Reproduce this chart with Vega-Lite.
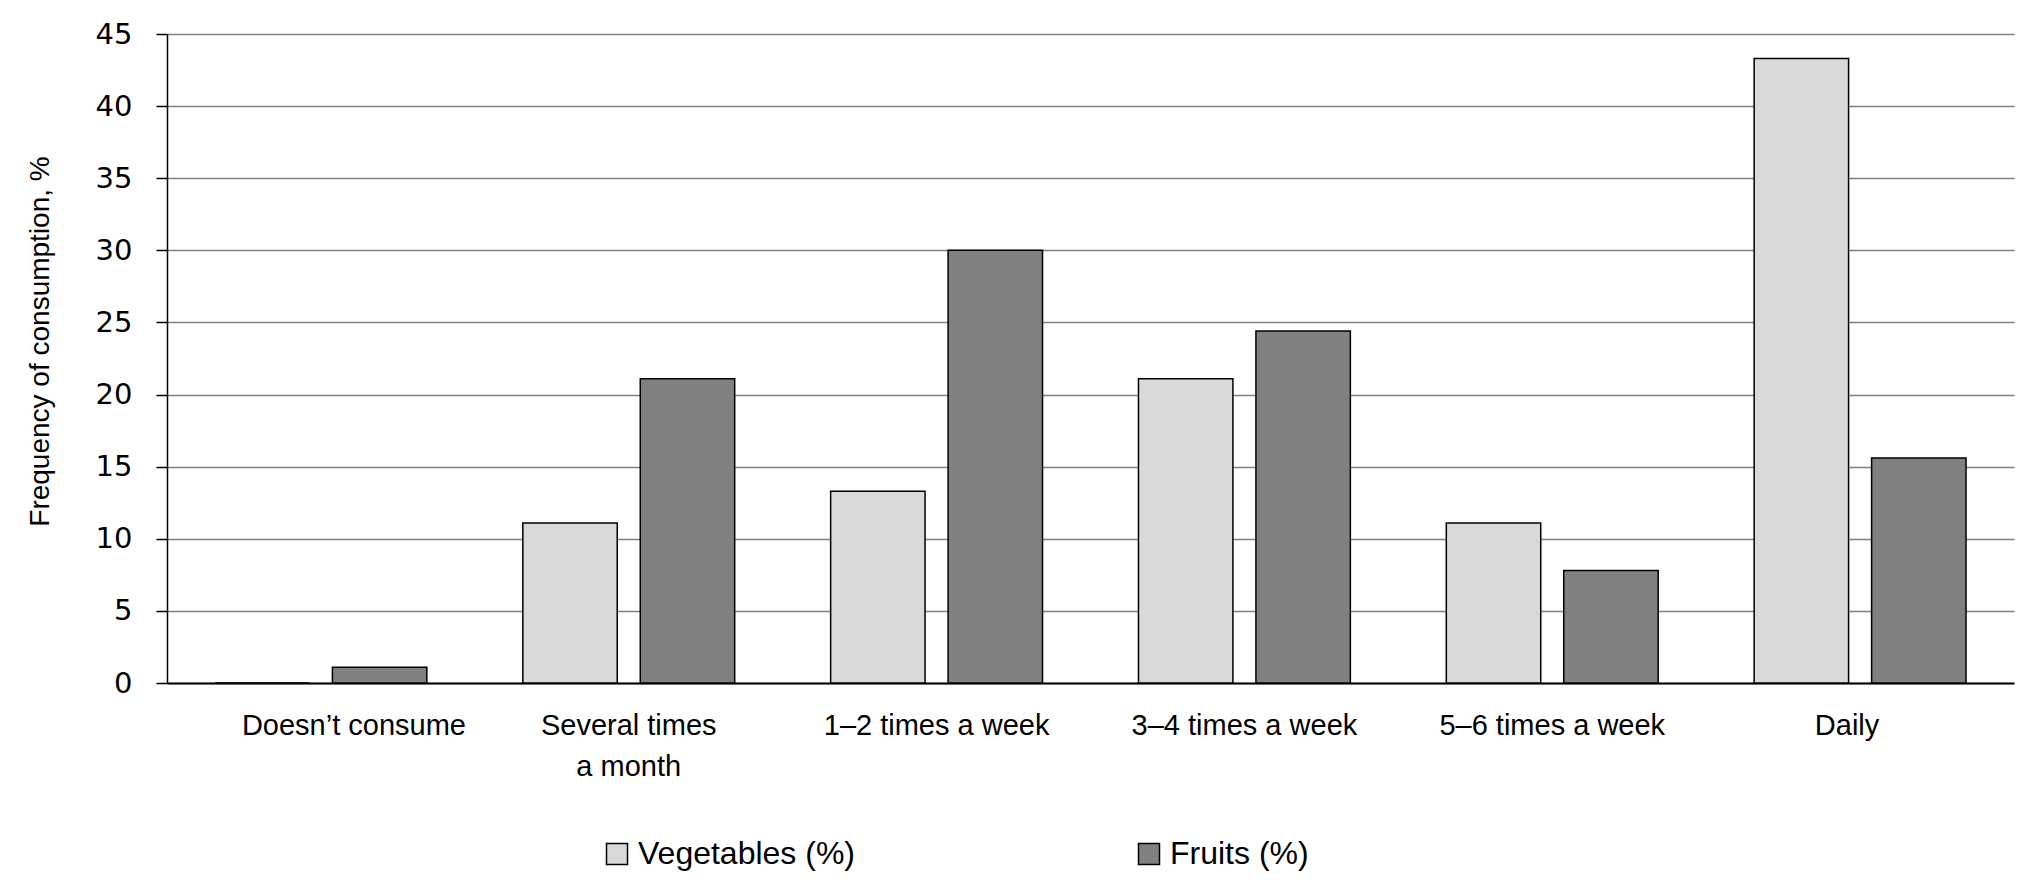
{
  "$schema": "https://vega.github.io/schema/vega-lite/v6.json",
  "autosize": {"type": "none"},
  "width": 1847,
  "height": 649,
  "padding": {"left": 167, "top": 34, "right": 6, "bottom": 200},
  "background": "white",
  "data": {
    "values": [
      {"category": "Doesn’t consume", "series": "Vegetables (%)", "value": 0},
      {"category": "Doesn’t consume", "series": "Fruits (%)", "value": 1.1},
      {"category": "Several times a month", "series": "Vegetables (%)", "value": 11.1},
      {"category": "Several times a month", "series": "Fruits (%)", "value": 21.1},
      {"category": "1–2 times a week", "series": "Vegetables (%)", "value": 13.3},
      {"category": "1–2 times a week", "series": "Fruits (%)", "value": 30.0},
      {"category": "3–4 times a week", "series": "Vegetables (%)", "value": 21.1},
      {"category": "3–4 times a week", "series": "Fruits (%)", "value": 24.4},
      {"category": "5–6 times a week", "series": "Vegetables (%)", "value": 11.1},
      {"category": "5–6 times a week", "series": "Fruits (%)", "value": 7.8},
      {"category": "Daily", "series": "Vegetables (%)", "value": 43.3},
      {"category": "Daily", "series": "Fruits (%)", "value": 15.6}
    ]
  },
  "config": {
    "view": {"stroke": null},
    "font": "Liberation Sans"
  },
  "mark": {"type": "bar", "stroke": "black", "strokeWidth": 1.5},
  "encoding": {
    "x": {
      "field": "category",
      "type": "nominal",
      "sort": ["Doesn’t consume", "Several times a month", "1–2 times a week", "3–4 times a week", "5–6 times a week", "Daily"],
      "scale": {"paddingInner": 0, "paddingOuter": 0},
      "axis": {
        "title": null,
        "labelAngle": 0,
        "ticks": false,
        "domainColor": "black",
        "domainWidth": 2,
        "labelFont": "Liberation Sans",
        "labelFontSize": 29,
        "labelColor": "black",
        "labelLimit": 0,
        "labelPadding": 28,
        "labelBaseline": "top",
        "labelLineHeight": 41,
        "labelExpr": "datum.label == 'Several times a month' ? ['Several times', 'a month'] : datum.label",
        "labelOffset": {
          "condition": [
            {"test": "datum.value == 'Daily'", "value": -13},
            {"test": "datum.value == 'Doesn’t consume'", "value": 33}
          ],
          "value": 0
        }
      }
    },
    "xOffset": {
      "field": "series",
      "type": "nominal",
      "sort": ["Vegetables (%)", "Fruits (%)"],
      "scale": {"paddingInner": 0.196, "paddingOuter": 0.4085}
    },
    "y": {
      "field": "value",
      "type": "quantitative",
      "scale": {"domain": [0, 45], "nice": false},
      "axis": {
        "title": "Frequency of consumption, %",
        "titleFont": "Liberation Sans",
        "titleFontSize": 28,
        "titleFontWeight": "normal",
        "titleColor": "black",
        "titleX": -127,
        "titleY": 307,
        "titleAngle": -90,
        "titleAlign": "center",
        "titleBaseline": "middle",
        "values": [0, 5, 10, 15, 20, 25, 30, 35, 40, 45],
        "labelFont": "DejaVu Sans",
        "labelFontSize": 29,
        "labelColor": "black",
        "labelPadding": 24,
        "tickSize": 11,
        "tickColor": "black",
        "tickWidth": 1.5,
        "domainColor": "black",
        "domainWidth": 1.5,
        "grid": true,
        "gridColor": "#808080",
        "gridWidth": 1.5
      }
    },
    "fill": {
      "field": "series",
      "type": "nominal",
      "sort": ["Vegetables (%)", "Fruits (%)"],
      "scale": {"domain": ["Vegetables (%)", "Fruits (%)"], "range": ["#d9d9d9", "#808080"]},
      "legend": {
        "title": null,
        "orient": "none",
        "direction": "horizontal",
        "legendX": 434,
        "legendY": 804,
        "symbolType": "square",
        "symbolSize": 441,
        "symbolStrokeColor": "black",
        "symbolStrokeWidth": 1.5,
        "labelFont": "Liberation Sans",
        "labelFontSize": 32,
        "labelColor": "black",
        "labelOffset": 5,
        "labelLimit": 400,
        "columnPadding": 277
      }
    }
  }
}
